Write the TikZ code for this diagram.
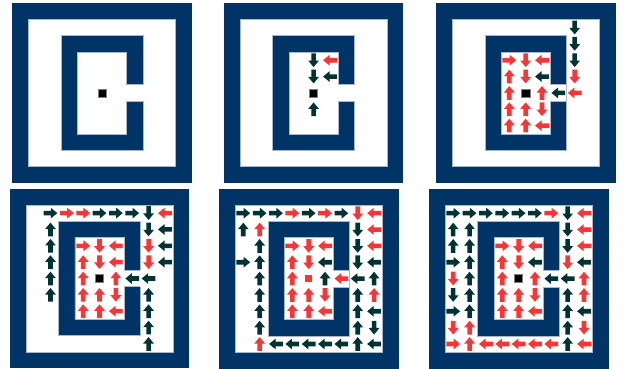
\documentclass[tikz,border=0pt]{standalone}
\definecolor{wallblue}{HTML}{003366}
\definecolor{arrdark}{HTML}{003333}
\definecolor{arrred}{HTML}{FF3333}
\definecolor{edgegray}{HTML}{A9B6CA}

\tikzset{
  wall/.style={fill=wallblue},
  rim/.style={draw=edgegray, line width=0.35pt},
  dk/.style={fill=arrdark},
  rd/.style={fill=arrred},
  goR/.style={rotate=0}, goU/.style={rotate=90},
  goL/.style={rotate=180}, goD/.style={rotate=-90},
}

% one block arrow in cell (col,row), rows counted downwards
\newcommand{\arw}[4]{%
  \begin{scope}[shift={(#1+0.5,#2+0.5)},go#3]
    \fill[#4] (-0.42,-0.14) -- (0.02,-0.14) -- (0.02,-0.33) -- (0.42,0) -- (0.02,0.33) -- (0.02,0.14) -- (-0.42,0.14) -- cycle;
  \end{scope}}

% the walls of one 11x11 maze
\newcommand{\mazegrid}{%
  \fill[wall] (0,0) rectangle (11,11);
  \fill[white] (1,1) rectangle (10,10);
  \draw[rim] (1,1) rectangle (10,10);
  \fill[wall] (3,2) rectangle (8,9);
  \fill[white] (4,3) -- (7,3) -- (7,5) -- (8,5) -- (8,6) -- (7,6) -- (7,8) -- (4,8) -- cycle;
  \draw[rim] (8,5) -- (8,2) -- (3,2) -- (3,9) -- (8,9) -- (8,6);
  \draw[rim] (8,5) -- (7,5) -- (7,3) -- (4,3) -- (4,8) -- (7,8) -- (7,6) -- (8,6);}

% the goal square in cell (5,5)
\newcommand{\goal}[1]{\filldraw[fill=#1, draw=gray, line width=0.3pt] (5.25,5.25) rectangle (5.75,5.75);}

% the inner room, as in the later steps
\newcommand{\innerroom}[1]{%
  \arw{4}{3}{R}{rd} \arw{5}{3}{D}{rd} \arw{6}{3}{L}{rd}
  \arw{4}{4}{U}{rd} \arw{5}{4}{D}{rd} \arw{6}{4}{L}{#1}
  \arw{4}{5}{U}{rd}
  \arw{4}{6}{U}{rd} \arw{5}{6}{U}{rd} \arw{6}{6}{D}{rd}
  \arw{4}{7}{U}{rd} \arw{5}{7}{U}{rd} \arw{6}{7}{L}{rd}}

\begin{document}
\begin{tikzpicture}[x=4mm, y=-4mm]
  \useasboundingbox (0,0) rectangle (38.29,22.51);

  % step 1
  \begin{scope}[shift={(0.734,0.183)}]
    \mazegrid
    \goal{black}
  \end{scope}

  % step 2
  \begin{scope}[shift={(13.68,0.183)}]
    \mazegrid
    \goal{black}
    \arw{5}{3}{D}{dk} \arw{6}{3}{L}{rd}
    \arw{5}{4}{D}{dk} \arw{6}{4}{L}{dk}
    \arw{5}{6}{U}{dk}
  \end{scope}

  % step 3
  \begin{scope}[shift={(26.65,0.183)}]
    \mazegrid
    \goal{black}
    \innerroom{dk}
    \arw{6}{5}{U}{rd}
    \foreach \r in {1,2,3} {\arw{8}{\r}{D}{dk}}
    \arw{8}{4}{D}{rd} \arw{8}{5}{L}{rd} \arw{7}{5}{L}{dk}
  \end{scope}

  % step 4
  \begin{scope}[shift={(0.587,11.535)}]
    \mazegrid
    \goal{black}
    \innerroom{rd}
    \arw{6}{5}{U}{rd}
    \arw{2}{1}{R}{dk} \arw{3}{1}{R}{rd} \arw{4}{1}{R}{rd}
    \foreach \c in {5,6,7} {\arw{\c}{1}{R}{dk}}
    \arw{8}{1}{D}{dk} \arw{9}{1}{L}{rd}
    \foreach \r in {2,...,6} {\arw{2}{\r}{U}{dk}}
    \arw{8}{2}{D}{dk} \arw{8}{3}{D}{rd} \arw{8}{4}{D}{rd}
    \foreach \r in {2,3,4} {\arw{9}{\r}{L}{dk}}
    \arw{7}{5}{L}{dk} \arw{8}{5}{L}{dk}
    \foreach \r in {6,...,9} {\arw{8}{\r}{U}{dk}}
  \end{scope}

  % step 5
  \begin{scope}[shift={(13.38,11.54)}]
    \mazegrid
    \fill[arrred] (5.27,5.27) rectangle (5.73,5.73);
    \innerroom{dk}
    \arw{6}{5}{U}{dk} \arw{7}{5}{L}{rd}
    \foreach \c in {1,2,3,5,7} {\arw{\c}{1}{R}{dk}}
    \arw{4}{1}{R}{rd} \arw{6}{1}{R}{rd} \arw{8}{1}{D}{rd} \arw{9}{1}{L}{rd}
    \arw{1}{2}{U}{dk} \arw{2}{2}{U}{rd} \arw{1}{4}{R}{dk}
    \foreach \r in {3,...,8} {\arw{2}{\r}{U}{dk}}
    \arw{2}{9}{U}{rd}
    \foreach \c in {3,...,7} {\arw{\c}{9}{L}{dk}}
    \foreach \r in {2,3,4} {\arw{8}{\r}{D}{dk}}
    \arw{9}{2}{L}{rd} \arw{9}{3}{L}{rd} \arw{9}{4}{L}{dk}
    \arw{8}{5}{L}{dk} \arw{9}{5}{U}{dk}
    \foreach \r in {6,...,9} {\arw{8}{\r}{U}{dk}}
    \arw{9}{6}{U}{rd} \arw{9}{7}{L}{dk} \arw{9}{8}{D}{dk} \arw{9}{9}{L}{dk}
  \end{scope}

  % step 6
  \begin{scope}[shift={(26.22,11.54)}]
    \mazegrid
    \goal{black}
    \innerroom{dk}
    \arw{6}{5}{U}{rd}
    \foreach \c in {1,...,6} {\arw{\c}{1}{R}{dk}}
    \arw{7}{1}{R}{rd} \arw{8}{1}{D}{dk} \arw{9}{1}{L}{rd}
    \arw{1}{2}{U}{dk} \arw{1}{3}{U}{dk} \arw{1}{4}{R}{dk} \arw{1}{5}{D}{rd}
    \arw{1}{6}{D}{dk} \arw{1}{7}{R}{dk} \arw{1}{8}{D}{rd} \arw{1}{9}{R}{rd}
    \foreach \r in {2,...,7} {\arw{2}{\r}{U}{dk}}
    \arw{2}{8}{U}{rd} \arw{2}{9}{U}{rd}
    \foreach \c in {3,...,7} {\arw{\c}{9}{L}{rd}}
    \arw{8}{2}{D}{dk} \arw{8}{3}{D}{dk} \arw{8}{4}{D}{rd}
    \arw{9}{2}{L}{rd} \arw{9}{3}{L}{rd} \arw{9}{4}{L}{dk}
    \arw{7}{5}{L}{dk} \arw{8}{5}{L}{dk} \arw{9}{5}{U}{rd}
    \foreach \r in {6,...,9} {\arw{8}{\r}{U}{dk}}
    \arw{9}{6}{U}{rd} \arw{9}{7}{L}{dk} \arw{9}{8}{D}{rd} \arw{9}{9}{L}{rd}
  \end{scope}
\end{tikzpicture}
\end{document}
